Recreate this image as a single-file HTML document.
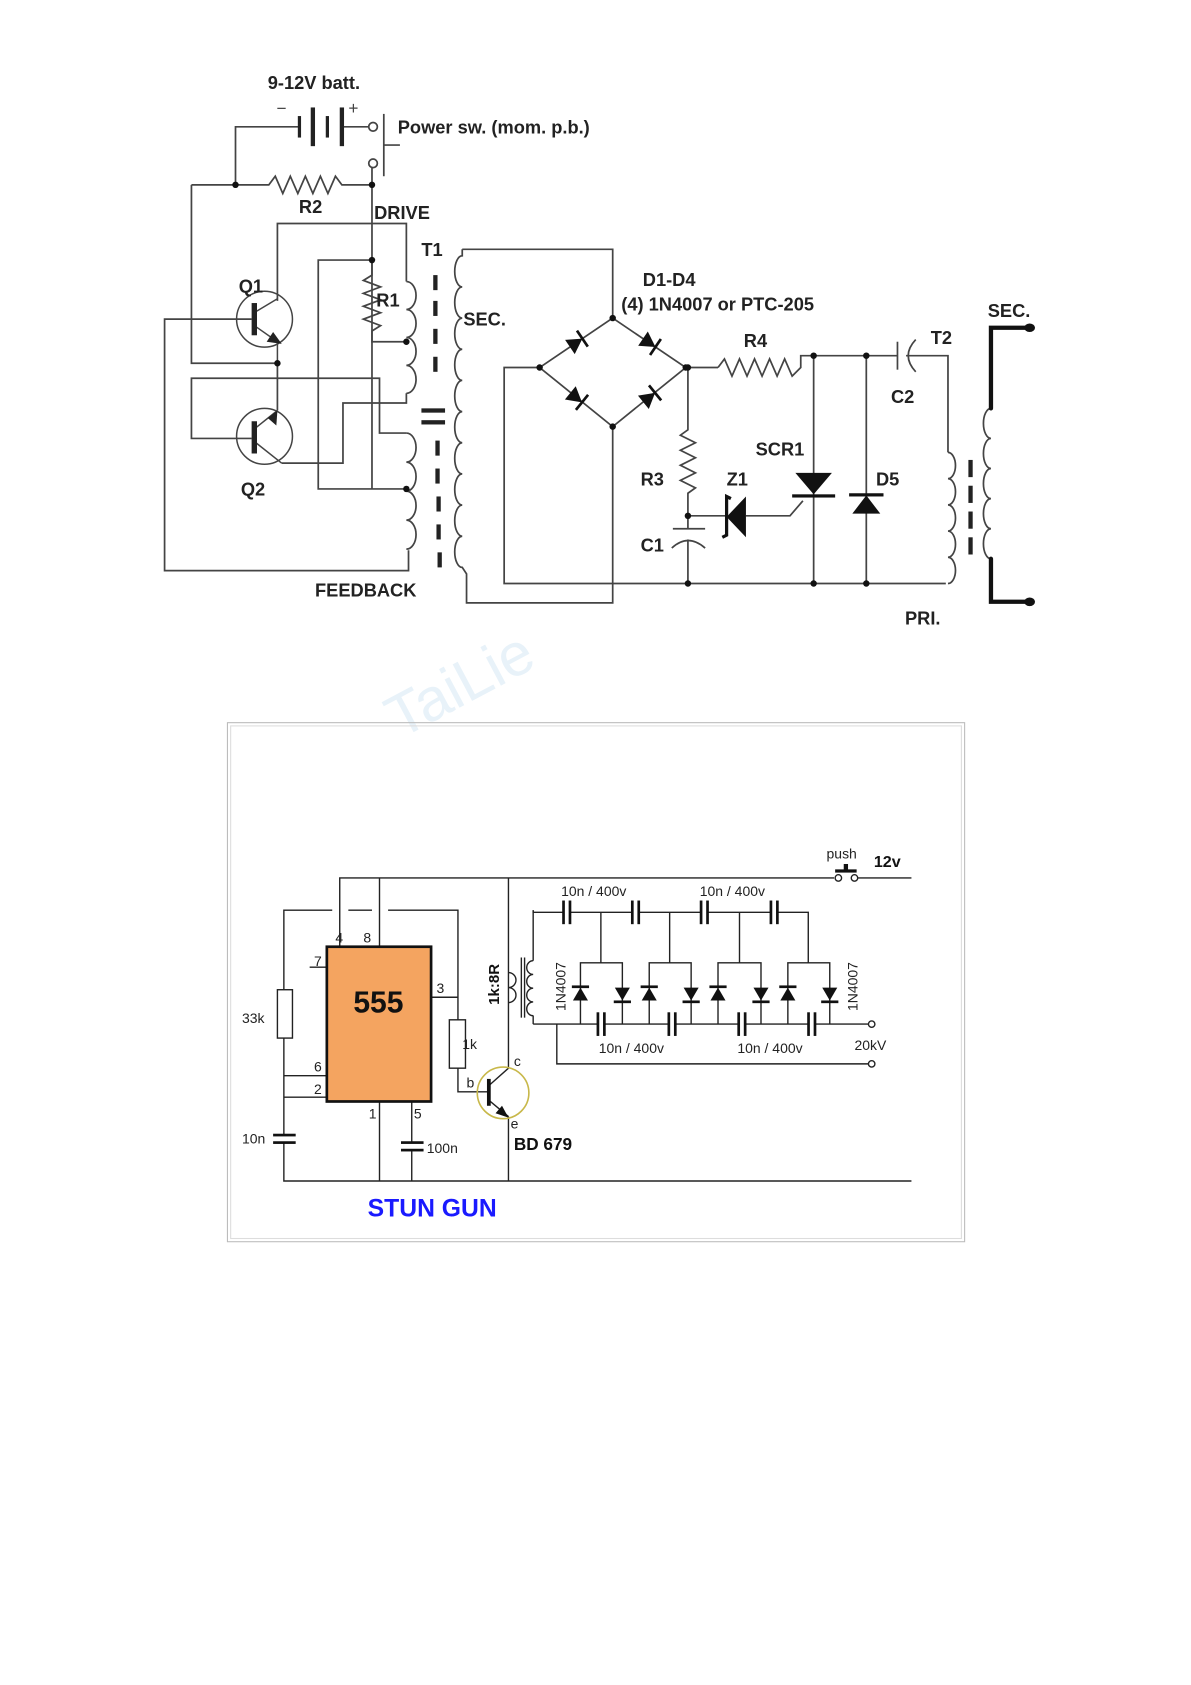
<!DOCTYPE html>
<html><head><meta charset="utf-8"><style>
html,body{margin:0;padding:0;background:#fff;}
svg{display:block;}
text{font-family:"Liberation Sans",sans-serif;}
</style></head><body>
<svg width="1191" height="1685" viewBox="0 0 1108 1568" xmlns="http://www.w3.org/2000/svg">
<rect width="1108" height="1568" fill="#fff"/>
<!-- watermark -->
<text x="372" y="688" font-size="56" fill="#e8f2f9" transform="rotate(-28 372 688)" font-family="Liberation Sans">TaiLie</text>

<!-- ================= TOP CIRCUIT ================= -->
<g stroke="#444" stroke-width="1.6" fill="none">
 <polyline points="219,172 219,118 278,118"/>
 <line x1="318" y1="118" x2="343" y2="118"/>
 <circle cx="347" cy="118" r="4"/>
 <circle cx="347" cy="152" r="4"/>
 <line x1="357" y1="106" x2="357" y2="164"/>
 <line x1="357" y1="135" x2="372" y2="135"/>
 <line x1="346" y1="156" x2="346" y2="455"/>
 <polyline points="178,172 250,172 256,164 263,180 270,164 277,180 284,164 291,180 298,164 305,180 312,164 318,172 346,172"/>
 <polyline points="178,172 178,338 258,338"/>
 <polyline points="258,280 258,208 378,208 378,262"/>
 <polyline points="346,242 346,256 338,261 354,267 338,273 354,279 338,285 354,291 338,297 354,303 346,308 346,318 378,318"/>
 <polyline points="346,242 296,242 296,455 378,455"/>
 <polyline points="234,297 153,297 153,531 380,531 380,512"/>
 <line x1="258" y1="338" x2="258" y2="382"/>
 <polyline points="234,408 178,408 178,352 353,352 353,403 378,403"/>
 <polyline points="262,431 319,431 319,375 378,375 378,366"/>
 <path d="M378,262 a9,13 0 0 1 0,26 a9,13 0 0 1 0,26 a9,13 0 0 1 0,26 a9,13 0 0 1 0,26"/>
 <path d="M378,403 a9,13.5 0 0 1 0,27 a9,13.5 0 0 1 0,27 a9,13.5 0 0 1 0,27 a9,13.5 0 0 1 0,27"/>
 <path d="M430,232 L430,238 a7,14.5 0 0 0 0,29 a7,14.5 0 0 0 0,29 a7,14.5 0 0 0 0,29 a7,14.5 0 0 0 0,29 a7,14.5 0 0 0 0,29 a7,14.5 0 0 0 0,29 a7,14.5 0 0 0 0,29 a7,14.5 0 0 0 0,29 a7,14.5 0 0 0 0,29 a7,14.5 0 0 0 0,29 L434,534 L434,561 L570,561 L570,397"/>
 <polyline points="430,232 570,232 570,296"/>
 <polygon points="570,296 638,342 570,397 502,342"/>
 <polyline points="502,342 469,342 469,543 880,543"/>
 <line x1="638" y1="342" x2="668" y2="342"/>
 <polyline points="668,342 674,334 681,350 688,334 695,350 702,334 709,350 716,334 723,350 730,334 737,350 745,342 745,331 835,331"/>
 <line x1="835" y1="318" x2="835" y2="344"/>
 <path d="M852,316 Q838,331 852,346"/>
 <polyline points="843,331 882,331 882,421"/>
 <polyline points="640,342 640,400 633,405 647,412 633,419 647,426 633,433 647,440 633,447 647,454 640,459 640,492"/>
 <line x1="626" y1="492" x2="656" y2="492"/>
 <path d="M625,510 Q640,496 656,510"/>
 <line x1="640" y1="502" x2="640" y2="543"/>
 <polyline points="640,480 676,480"/>
 <polyline points="694,480 735,480 747,466"/>
 <line x1="757" y1="331" x2="757" y2="543"/>
 <line x1="806" y1="331" x2="806" y2="543"/>
 <path d="M882,421 a7,12.2 0 0 1 0,24.4 a7,12.2 0 0 1 0,24.4 a7,12.2 0 0 1 0,24.4 a7,12.2 0 0 1 0,24.4 a7,12.2 0 0 1 0,24.4"/>
 <path d="M922,380 a7,14 0 0 0 0,28 a7,14 0 0 0 0,28 a7,14 0 0 0 0,28 a7,14 0 0 0 0,28 a7,14 0 0 0 0,28"/>
</g>
<g fill="#222">
 <rect x="403" y="256" width="4" height="14"/><rect x="403" y="280" width="4" height="14"/><rect x="403" y="306" width="4" height="14"/><rect x="403" y="332" width="4" height="14"/>
 <rect x="392" y="380" width="22" height="4"/><rect x="392" y="391" width="22" height="4"/>
 <rect x="405" y="410" width="4" height="14"/><rect x="405" y="436" width="4" height="14"/><rect x="406" y="462" width="4" height="14"/><rect x="406" y="488" width="4" height="14"/><rect x="407" y="514" width="4" height="14"/>
 <rect x="901" y="428" width="4" height="16"/><rect x="901" y="452" width="4" height="16"/><rect x="901" y="476" width="4" height="16"/><rect x="901" y="500" width="4" height="16"/>
</g>
<g stroke="#111" stroke-width="4" fill="none" stroke-linecap="round">
 <polyline points="922,380 922,305 958,305"/>
 <polyline points="922,520 922,560 958,560"/>
</g>
<ellipse cx="958" cy="305" rx="5" ry="4" fill="#111"/>
<ellipse cx="958" cy="560" rx="5" ry="4" fill="#111"/>
<g fill="#222">
 <rect x="277" y="108" width="3" height="20"/>
 <rect x="289" y="100" width="4" height="36"/>
 <rect x="303" y="108" width="3" height="20"/>
 <rect x="316" y="100" width="4" height="36"/>
</g>
<g stroke="#444" stroke-width="1.4" fill="none">
 <circle cx="246" cy="297" r="26"/>
 <circle cx="246" cy="406" r="26"/>
 <line x1="258" y1="278" x2="238" y2="290"/>
 <line x1="238" y1="304" x2="258" y2="318"/>
 <line x1="258" y1="382" x2="238" y2="398"/>
 <line x1="238" y1="412" x2="262" y2="431"/>
 <line x1="258" y1="318" x2="258" y2="338"/>
</g>
<g fill="#222">
 <rect x="234" y="282" width="5" height="30"/>
 <rect x="234" y="392" width="5" height="30"/>
 <polygon points="262,320 248,318 254,309"/>
 <polygon points="258,382 257,396 249,389"/>
</g>
<g fill="#111">
 <circle cx="219" cy="172" r="3"/><circle cx="346" cy="172" r="3"/><circle cx="346" cy="242" r="3"/>
 <circle cx="258" cy="338" r="3"/><circle cx="378" cy="318" r="3"/><circle cx="378" cy="455" r="3"/>
 <circle cx="570" cy="296" r="3"/><circle cx="570" cy="397" r="3"/><circle cx="502" cy="342" r="3"/><circle cx="638" cy="342" r="3"/>
 <circle cx="640" cy="342" r="3"/><circle cx="757" cy="331" r="3"/><circle cx="806" cy="331" r="3"/>
 <circle cx="640" cy="480" r="3"/><circle cx="640" cy="543" r="3"/><circle cx="757" cy="543" r="3"/><circle cx="806" cy="543" r="3"/>
</g>
<g fill="#111" stroke="#111" stroke-width="2.5">
 <g transform="translate(536,319) rotate(-34)"><polygon points="-7,-8 -7,8 7,0" stroke="none"/><line x1="7" y1="-9" x2="7" y2="9"/></g>
 <g transform="translate(604,319) rotate(34)"><polygon points="-7,-8 -7,8 7,0" stroke="none"/><line x1="7" y1="-9" x2="7" y2="9"/></g>
 <g transform="translate(536,370) rotate(39)"><polygon points="-7,-8 -7,8 7,0" stroke="none"/><line x1="7" y1="-9" x2="7" y2="9"/></g>
 <g transform="translate(604,370) rotate(-39)"><polygon points="-7,-8 -7,8 7,0" stroke="none"/><line x1="7" y1="-9" x2="7" y2="9"/></g>
</g>
<polygon points="740,440 774,440 757,460" fill="#111"/>
<rect x="737" y="460" width="40" height="3" fill="#111"/>
<polygon points="793,478 819,478 806,461" fill="#111"/>
<rect x="790" y="459" width="32" height="3" fill="#111"/>
<polygon points="694,462 694,500 676,481" fill="#111"/>
<polyline points="680,464 676,462 676,498 672,500" stroke="#111" stroke-width="3" fill="none"/>
<g font-weight="bold" font-size="17" fill="#222">
 <text x="249" y="83">9-12V batt.</text>
 <text x="370" y="124">Power sw. (mom. p.b.)</text>
 <text x="278" y="198">R2</text>
 <text x="348" y="204">DRIVE</text>
 <text x="392" y="238">T1</text>
 <text x="222" y="272">Q1</text>
 <text x="350" y="285">R1</text>
 <text x="431" y="303">SEC.</text>
 <text x="224" y="461">Q2</text>
 <text x="293" y="555">FEEDBACK</text>
 <text x="598" y="266">D1-D4</text>
 <text x="578" y="289">(4) 1N4007 or PTC-205</text>
 <text x="692" y="323">R4</text>
 <text x="829" y="375">C2</text>
 <text x="866" y="320">T2</text>
 <text x="919" y="295">SEC.</text>
 <text x="703" y="424">SCR1</text>
 <text x="676" y="452">Z1</text>
 <text x="815" y="452">D5</text>
 <text x="596" y="452">R3</text>
 <text x="596" y="513">C1</text>
 <text x="842" y="581">PRI.</text>
</g>
<text x="257" y="106" font-size="16" fill="#444">−</text>
<text x="324" y="106" font-size="16" fill="#444">+</text>

<!-- ================= BOTTOM BOX ================= -->
<rect x="211.5" y="672.5" width="686" height="483" fill="none" stroke="#bbb" stroke-width="1"/>
<rect x="214.5" y="675.5" width="680" height="477" fill="none" stroke="#ddd" stroke-width="1"/>

<g stroke="#222" stroke-width="1.3" fill="none">
 <polyline points="316,881 316,817 776,817"/>
 <line x1="798" y1="817" x2="848" y2="817"/>
 <line x1="353" y1="817" x2="353" y2="881"/>
 <line x1="473" y1="817" x2="473" y2="994"/>
 <polyline points="309,847 264,847 264,921"/>
 <line x1="324" y1="847" x2="346" y2="847"/>
 <polyline points="361,847 426,847 426,949"/>
 <polyline points="264,966 264,1056"/>
 <polyline points="264,1063 264,1099 848,1099"/>
 <line x1="264" y1="1001" x2="304" y2="1001"/>
 <line x1="264" y1="1021" x2="304" y2="1021"/>
 <line x1="288" y1="900" x2="304" y2="900"/>
 <line x1="401" y1="928" x2="426" y2="928"/>
 <polyline points="426,994 426,1016 455,1016"/>
 <line x1="353" y1="1025" x2="353" y2="1099"/>
 <line x1="383" y1="1025" x2="383" y2="1063"/>
 <line x1="383" y1="1070" x2="383" y2="1099"/>
 <line x1="473" y1="1039" x2="473" y2="1099"/>
 <rect x="258" y="921" width="14" height="45" fill="#fff"/>
 <rect x="418" y="949" width="15" height="45" fill="#fff"/>
 <line x1="455" y1="1010" x2="473" y2="994"/>
 <line x1="455" y1="1024" x2="473" y2="1039"/>
 <path d="M473,905 a7,7 0 0 1 0,14 a7,7 0 0 1 0,14"/>
 <polyline points="496,847 496,894"/>
 <path d="M496,894 a6,6.4 0 0 0 0,12.8 a6,6.4 0 0 0 0,12.8 a6,6.4 0 0 0 0,12.8 a6,6.4 0 0 0 0,12.8"/>
 <line x1="496" y1="945" x2="496" y2="953"/>
 <line x1="485" y1="891" x2="485" y2="947"/>
 <line x1="488" y1="891" x2="488" y2="947"/>
 <polyline points="496,847 496,849 524,849"/>
 <line x1="530" y1="849" x2="588" y2="849"/>
 <line x1="594" y1="849" x2="652" y2="849"/>
 <line x1="658" y1="849" x2="717" y2="849"/>
 <polyline points="723,849 752,849 752,896"/>
 <line x1="559" y1="849" x2="559" y2="896"/>
 <line x1="623" y1="849" x2="623" y2="896"/>
 <line x1="688" y1="849" x2="688" y2="896"/>
 <polyline points="540,953 540,896 579,896 579,953"/>
 <polyline points="604,953 604,896 643,896 643,953"/>
 <polyline points="668,953 668,896 708,896 708,953"/>
 <polyline points="733,953 733,896 772,896 772,953"/>
 <line x1="496" y1="953" x2="556" y2="953"/>
 <line x1="562" y1="953" x2="622" y2="953"/>
 <line x1="628" y1="953" x2="687" y2="953"/>
 <line x1="693" y1="953" x2="752" y2="953"/>
 <line x1="758" y1="953" x2="808" y2="953"/>
 <polyline points="518,953 518,990 808,990"/>
 <circle cx="811" cy="953" r="3"/>
 <circle cx="811" cy="990" r="3"/>
 <circle cx="780" cy="817" r="3"/>
 <circle cx="795" cy="817" r="3"/>
</g>
<g fill="#111">
 <rect x="523" y="838" width="2.5" height="22"/><rect x="529" y="838" width="2.5" height="22"/>
 <rect x="587" y="838" width="2.5" height="22"/><rect x="593" y="838" width="2.5" height="22"/>
 <rect x="651" y="838" width="2.5" height="22"/><rect x="657" y="838" width="2.5" height="22"/>
 <rect x="716" y="838" width="2.5" height="22"/><rect x="722" y="838" width="2.5" height="22"/>
 <rect x="555" y="942" width="2.5" height="22"/><rect x="561" y="942" width="2.5" height="22"/>
 <rect x="621" y="942" width="2.5" height="22"/><rect x="627" y="942" width="2.5" height="22"/>
 <rect x="686" y="942" width="2.5" height="22"/><rect x="692" y="942" width="2.5" height="22"/>
 <rect x="751" y="942" width="2.5" height="22"/><rect x="757" y="942" width="2.5" height="22"/>
 <rect x="254" y="1055" width="21" height="2.5"/><rect x="254" y="1062" width="21" height="2.5"/>
 <rect x="373" y="1062" width="21" height="2.5"/><rect x="373" y="1069" width="21" height="2.5"/>
 <polygon points="533,931 547,931 540,919"/><rect x="532" y="917" width="16" height="2.5"/>
 <polygon points="572,919 586,919 579,931"/><rect x="571" y="931" width="16" height="2.5"/>
 <polygon points="597,931 611,931 604,919"/><rect x="596" y="917" width="16" height="2.5"/>
 <polygon points="636,919 650,919 643,931"/><rect x="635" y="931" width="16" height="2.5"/>
 <polygon points="661,931 675,931 668,919"/><rect x="660" y="917" width="16" height="2.5"/>
 <polygon points="701,919 715,919 708,931"/><rect x="700" y="931" width="16" height="2.5"/>
 <polygon points="726,931 740,931 733,919"/><rect x="725" y="917" width="16" height="2.5"/>
 <polygon points="765,919 779,919 772,931"/><rect x="764" y="931" width="16" height="2.5"/>
 <rect x="777" y="809" width="20" height="3"/><rect x="785" y="804" width="4" height="6"/>
 <rect x="453" y="1004" width="3.5" height="25"/>
 <polygon points="473,1040 461,1036 467,1029"/>
</g>
<circle cx="468" cy="1017" r="24" fill="none" stroke="#c8b84a" stroke-width="1.5"/>
<rect x="304" y="881" width="97" height="144" fill="#F4A460" stroke="#111" stroke-width="2.5"/>
<text x="352" y="942" font-size="28" font-weight="bold" text-anchor="middle" fill="#111">555</text>
<g font-size="13" fill="#222">
 <text x="312" y="877">4</text><text x="338" y="877">8</text>
 <text x="292" y="899">7</text><text x="406" y="924">3</text>
 <text x="292" y="997">6</text><text x="292" y="1018">2</text>
 <text x="343" y="1041">1</text><text x="385" y="1041">5</text>
 <text x="225" y="952">33k</text>
 <text x="225" y="1064">10n</text>
 <text x="397" y="1073">100n</text>
 <text x="430" y="976">1k</text>
 <text x="434" y="1012">b</text>
 <text x="478" y="992">c</text>
 <text x="475" y="1050">e</text>
 <text x="522" y="834">10n / 400v</text>
 <text x="651" y="834">10n / 400v</text>
 <text x="557" y="980">10n / 400v</text>
 <text x="686" y="980">10n / 400v</text>
 <text x="795" y="977">20kV</text>
 <text x="769" y="799">push</text>
 <text x="526" y="918" transform="rotate(-90 526 918)" text-anchor="middle">1N4007</text>
 <text x="798" y="918" transform="rotate(-90 798 918)" text-anchor="middle">1N4007</text>
</g>
<text x="464" y="916" font-size="14" font-weight="bold" fill="#111" transform="rotate(-90 464 916)" text-anchor="middle">1k:8R</text>
<text x="813" y="807" font-size="15" font-weight="bold" fill="#111">12v</text>
<text x="478" y="1070" font-size="16" font-weight="bold" fill="#111">BD 679</text>
<text x="342" y="1132" font-size="23" font-weight="bold" fill="#1a1aff">STUN GUN</text>
</svg>
</body></html>
